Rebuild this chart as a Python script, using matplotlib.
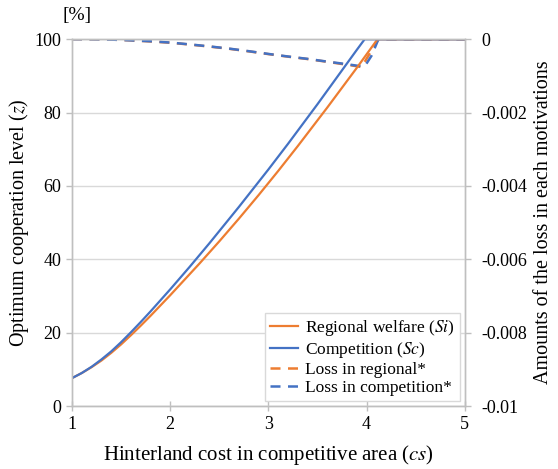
import numpy as np
import matplotlib
matplotlib.use("Agg")
import matplotlib.pyplot as plt

plt.rcParams['font.family'] = ['Liberation Serif', 'DejaVu Serif']
plt.rcParams['mathtext.fontset'] = 'stix'

# hinterland cost cs
cs_sc = [1.0, 1.1, 1.2, 1.3, 1.4, 1.5, 1.6, 1.7, 1.8, 1.9, 2.0, 2.1, 2.2, 2.3, 2.4,
         2.5, 2.6, 2.7, 2.8, 2.9, 3.0, 3.1, 3.2, 3.3, 3.4, 3.5, 3.6, 3.7, 3.8, 3.9,
         3.98, 4.0, 4.5, 5.0]
z_sc = [7.6, 9.0, 10.7, 12.7, 14.9, 17.4, 20.1, 22.9, 25.8, 28.8, 31.8, 34.9, 38.0,
        41.2, 44.4, 47.7, 51.0, 54.3, 57.7, 61.1, 64.5, 68.0, 71.5, 75.1, 78.7, 82.3,
        86.0, 89.7, 93.4, 97.1, 100, 100, 100, 100]

cs_si = [1.0, 1.1, 1.2, 1.3, 1.4, 1.5, 1.6, 1.7, 1.8, 1.9, 2.0, 2.1, 2.2, 2.3, 2.4,
         2.5, 2.6, 2.7, 2.8, 2.9, 3.0, 3.1, 3.2, 3.3, 3.4, 3.5, 3.6, 3.7, 3.8, 3.9,
         4.0, 4.1, 4.11, 4.5, 5.0]
z_si = [7.6, 9.0, 10.6, 12.4, 14.5, 16.8, 19.3, 21.9, 24.6, 27.4, 30.2, 33.1, 36.0,
        38.9, 41.9, 44.9, 48.0, 51.1, 54.3, 57.5, 60.8, 64.1, 67.5, 70.9, 74.4, 77.9,
        81.4, 85.0, 88.6, 92.2, 95.9, 99.6, 100, 100, 100]

# losses (right axis)
cs_loss_r = [1.0, 1.2, 1.4, 1.6, 1.8, 2.0, 2.2, 2.4, 2.6, 2.8, 3.0, 3.2, 3.4, 3.6,
             3.8, 3.9, 3.95, 4.0, 4.1, 4.12, 4.5, 5.0]
loss_r = [0, -0.000002, -0.00001, -0.00003, -0.00006, -0.000095, -0.000145, -0.0002,
          -0.00026, -0.00033, -0.000405, -0.000475, -0.00054, -0.000615, -0.000695,
          -0.000735, -0.00076, -0.00053, -0.00009, 0, 0, 0]

cs_loss_c = [1.0, 1.2, 1.4, 1.6, 1.8, 2.0, 2.2, 2.4, 2.6, 2.8, 3.0, 3.2, 3.4, 3.6,
             3.8, 3.9, 3.98, 4.05, 4.12, 4.5, 5.0]
loss_c = [0, -0.000002, -0.00001, -0.00003, -0.000055, -0.00009, -0.00014, -0.000195,
          -0.000255, -0.000325, -0.0004, -0.00047, -0.000535, -0.00061, -0.00068,
          -0.00072, -0.00074, -0.00045, 0, 0, 0]

orange = '#ED7D31'
blue = '#4472C4'
grid_c = '#d9d9d9'
axis_c = '#bfbfbf'

fig = plt.figure(figsize=(5.58, 4.69), dpi=100)
ax = fig.add_axes([0.129, 0.1343, 0.704, 0.782])
ax2 = ax.twinx()

l1, = ax.plot(cs_si, z_si, color=orange, lw=1.6, label='Regional welfare ($Si$)')
l2, = ax.plot(cs_sc, z_sc, color=blue, lw=1.6, label='Competition ($Sc$)')
l3, = ax2.plot(cs_loss_r, loss_r, color=orange, lw=1.8, dashes=(4, 3),
               label='Loss in regional*')
l4, = ax2.plot(cs_loss_c, loss_c, color=blue, lw=1.8, dashes=(4, 3),
               label='Loss in competition*')

ax.set_xlim(1, 5)
ax.set_ylim(0, 100)
ax2.set_ylim(-0.01, 0)
ax.set_xticks([1, 2, 3, 4, 5])
ax.set_yticks([0, 20, 40, 60, 80, 100])
ax2.set_yticks([-0.01, -0.008, -0.006, -0.004, -0.002, 0])
ax2.set_yticklabels(['-0.01', '-0.008', '-0.006', '-0.004', '-0.002', '0'])

ax.grid(axis='y', color=grid_c, lw=1)
ax.set_axisbelow(True)
for a in (ax, ax2):
    for s in a.spines.values():
        s.set_color(axis_c)
        s.set_linewidth(1)
ax.tick_params(axis='both', colors=axis_c, labelcolor='black', labelsize=13,
               length=4, width=1, direction='out')
ax.tick_params(axis='x', direction='inout', length=7, pad=4)
ax2.tick_params(axis='y', colors=axis_c, labelcolor='black', labelsize=13,
                length=4, width=1, direction='out', pad=8)

ax.set_xlabel('Hinterland cost in competitive area ($cs$)', fontsize=15, labelpad=7)
ax.set_ylabel('Optimum cooperation level ($z$)', fontsize=14.5, labelpad=3)
ax2.set_ylabel('Amounts of the loss in each motivations', fontsize=14.5, labelpad=5)
fig.text(0.138, 0.966, '[%]', fontsize=14, ha='center', va='center')

leg = ax.legend(handles=[l1, l2, l3, l4], loc='lower right', fontsize=12.5,
                frameon=True, fancybox=False, framealpha=1, edgecolor='#d9d9d9',
                handlelength=1.6, handletextpad=0.4, borderpad=0.3,
                labelspacing=0.1, borderaxespad=0.3)
leg.get_frame().set_linewidth(1)
leg.set_zorder(5)
ax.set_zorder(ax2.get_zorder() + 1)
ax.patch.set_visible(False)

fig.savefig('out.png', dpi=100)
